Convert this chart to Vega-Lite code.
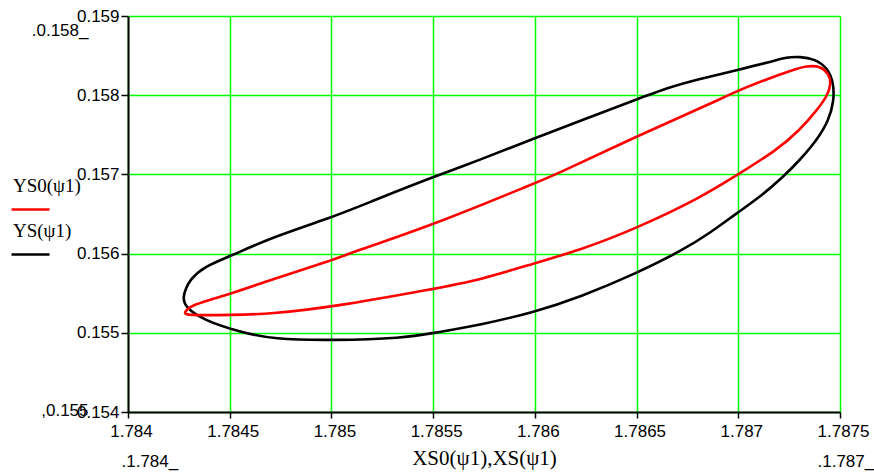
{
  "$schema": "https://vega.github.io/schema/vega-lite/v6.json",
  "width": 712,
  "height": 396,
  "autosize": {"type": "none"},
  "padding": {"left": 128, "top": 16, "right": 34, "bottom": 60},
  "background": "white",
  "data": {
    "values": [
      {"s": "YS(ψ1)", "i": 1, "x": 1.78427, "y": 0.155452},
      {"s": "YS(ψ1)", "i": 2, "x": 1.784285, "y": 0.155566},
      {"s": "YS(ψ1)", "i": 3, "x": 1.784305, "y": 0.155667},
      {"s": "YS(ψ1)", "i": 4, "x": 1.784369, "y": 0.155831},
      {"s": "YS(ψ1)", "i": 5, "x": 1.784506, "y": 0.15597},
      {"s": "YS(ψ1)", "i": 6, "x": 1.784698, "y": 0.156197},
      {"s": "YS(ψ1)", "i": 7, "x": 1.785008, "y": 0.156462},
      {"s": "YS(ψ1)", "i": 8, "x": 1.78519, "y": 0.156652},
      {"s": "YS(ψ1)", "i": 9, "x": 1.785499, "y": 0.156967},
      {"s": "YS(ψ1)", "i": 10, "x": 1.78573, "y": 0.157182},
      {"s": "YS(ψ1)", "i": 11, "x": 1.786001, "y": 0.15746},
      {"s": "YS(ψ1)", "i": 12, "x": 1.786247, "y": 0.1577},
      {"s": "YS(ψ1)", "i": 13, "x": 1.786492, "y": 0.157939},
      {"s": "YS(ψ1)", "i": 14, "x": 1.786664, "y": 0.158104},
      {"s": "YS(ψ1)", "i": 15, "x": 1.786812, "y": 0.158205},
      {"s": "YS(ψ1)", "i": 16, "x": 1.786994, "y": 0.158318},
      {"s": "YS(ψ1)", "i": 17, "x": 1.787156, "y": 0.158419},
      {"s": "YS(ψ1)", "i": 18, "x": 1.787239, "y": 0.158482},
      {"s": "YS(ψ1)", "i": 19, "x": 1.787303, "y": 0.158486},
      {"s": "YS(ψ1)", "i": 20, "x": 1.787372, "y": 0.158462},
      {"s": "YS(ψ1)", "i": 21, "x": 1.787441, "y": 0.158343},
      {"s": "YS(ψ1)", "i": 22, "x": 1.787468, "y": 0.158154},
      {"s": "YS(ψ1)", "i": 23, "x": 1.787471, "y": 0.157939},
      {"s": "YS(ψ1)", "i": 24, "x": 1.787446, "y": 0.157687},
      {"s": "YS(ψ1)", "i": 25, "x": 1.787387, "y": 0.157434},
      {"s": "YS(ψ1)", "i": 26, "x": 1.787303, "y": 0.157182},
      {"s": "YS(ψ1)", "i": 27, "x": 1.78722, "y": 0.156967},
      {"s": "YS(ψ1)", "i": 28, "x": 1.787107, "y": 0.156715},
      {"s": "YS(ψ1)", "i": 29, "x": 1.786994, "y": 0.156513},
      {"s": "YS(ψ1)", "i": 30, "x": 1.786861, "y": 0.15626},
      {"s": "YS(ψ1)", "i": 31, "x": 1.786728, "y": 0.156045},
      {"s": "YS(ψ1)", "i": 32, "x": 1.786492, "y": 0.155742},
      {"s": "YS(ψ1)", "i": 33, "x": 1.786222, "y": 0.155452},
      {"s": "YS(ψ1)", "i": 34, "x": 1.786001, "y": 0.155263},
      {"s": "YS(ψ1)", "i": 35, "x": 1.78573, "y": 0.155098},
      {"s": "YS(ψ1)", "i": 36, "x": 1.785499, "y": 0.154997},
      {"s": "YS(ψ1)", "i": 37, "x": 1.785352, "y": 0.154932},
      {"s": "YS(ψ1)", "i": 38, "x": 1.785008, "y": 0.154904},
      {"s": "YS(ψ1)", "i": 39, "x": 1.784713, "y": 0.154917},
      {"s": "YS(ψ1)", "i": 40, "x": 1.784551, "y": 0.15501},
      {"s": "YS(ψ1)", "i": 41, "x": 1.784369, "y": 0.155162},
      {"s": "YS(ψ1)", "i": 42, "x": 1.78428, "y": 0.155326},
      {"s": "YS0(ψ1)", "i": 1, "x": 1.784275, "y": 0.15525},
      {"s": "YS0(ψ1)", "i": 2, "x": 1.784305, "y": 0.155351},
      {"s": "YS0(ψ1)", "i": 3, "x": 1.784506, "y": 0.15549},
      {"s": "YS0(ψ1)", "i": 4, "x": 1.784698, "y": 0.155667},
      {"s": "YS0(ψ1)", "i": 5, "x": 1.785008, "y": 0.155919},
      {"s": "YS0(ψ1)", "i": 6, "x": 1.785106, "y": 0.15602},
      {"s": "YS0(ψ1)", "i": 7, "x": 1.785499, "y": 0.156361},
      {"s": "YS0(ψ1)", "i": 8, "x": 1.786001, "y": 0.156891},
      {"s": "YS0(ψ1)", "i": 9, "x": 1.786089, "y": 0.15698},
      {"s": "YS0(ψ1)", "i": 10, "x": 1.786492, "y": 0.157472},
      {"s": "YS0(ψ1)", "i": 11, "x": 1.786861, "y": 0.157889},
      {"s": "YS0(ψ1)", "i": 12, "x": 1.786994, "y": 0.158055},
      {"s": "YS0(ψ1)", "i": 13, "x": 1.787156, "y": 0.158217},
      {"s": "YS0(ψ1)", "i": 14, "x": 1.787254, "y": 0.158306},
      {"s": "YS0(ψ1)", "i": 15, "x": 1.787338, "y": 0.158374},
      {"s": "YS0(ψ1)", "i": 16, "x": 1.787407, "y": 0.158366},
      {"s": "YS0(ψ1)", "i": 17, "x": 1.787446, "y": 0.158265},
      {"s": "YS0(ψ1)", "i": 18, "x": 1.787456, "y": 0.158154},
      {"s": "YS0(ψ1)", "i": 19, "x": 1.787441, "y": 0.158003},
      {"s": "YS0(ψ1)", "i": 20, "x": 1.787387, "y": 0.157813},
      {"s": "YS0(ψ1)", "i": 21, "x": 1.787303, "y": 0.157561},
      {"s": "YS0(ψ1)", "i": 22, "x": 1.78719, "y": 0.157308},
      {"s": "YS0(ψ1)", "i": 23, "x": 1.786994, "y": 0.156992},
      {"s": "YS0(ψ1)", "i": 24, "x": 1.786812, "y": 0.156702},
      {"s": "YS0(ψ1)", "i": 25, "x": 1.786492, "y": 0.156311},
      {"s": "YS0(ψ1)", "i": 26, "x": 1.786222, "y": 0.156045},
      {"s": "YS0(ψ1)", "i": 27, "x": 1.786001, "y": 0.155881},
      {"s": "YS0(ψ1)", "i": 28, "x": 1.78573, "y": 0.155667},
      {"s": "YS0(ψ1)", "i": 29, "x": 1.785499, "y": 0.155553},
      {"s": "YS0(ψ1)", "i": 30, "x": 1.785008, "y": 0.155326},
      {"s": "YS0(ψ1)", "i": 31, "x": 1.784698, "y": 0.155237},
      {"s": "YS0(ψ1)", "i": 32, "x": 1.784506, "y": 0.155225},
      {"s": "YS0(ψ1)", "i": 33, "x": 1.784285, "y": 0.15522}
    ]
  },
  "layer": [
    {
      "mark": {"type": "point", "opacity": 0},
      "encoding": {
        "x": {
          "field": "x",
          "type": "quantitative",
          "scale": {"domain": [1.784, 1.7875], "nice": false, "zero": false},
          "axis": {
            "orient": "bottom",
            "values": [1.784, 1.7875],
            "labelExpr": "datum.value < 1.785 ? '.1.784_' : '.1.787_'",
            "title": null,
            "grid": false,
            "domain": false,
            "ticks": false,
            "offset": 40,
            "labelPadding": 1,
            "labelBaseline": "top",
            "labelAlign": "left",
            "labelOffset": {"condition": {"test": "datum.value < 1.785", "value": -7}, "value": -23},
            "labelFlush": false,
            "labelOverlap": false,
            "labelFont": "Liberation Sans",
            "labelFontSize": 17,
            "labelColor": "#000000"
          }
        },
        "y": {
          "field": "y",
          "type": "quantitative",
          "scale": {"domain": [0.154, 0.159], "nice": false, "zero": false},
          "axis": {
            "orient": "left",
            "values": [0.154, 0.159],
            "labelExpr": "datum.value < 0.1565 ? ',0.155' : '.0.158_'",
            "title": null,
            "grid": false,
            "domain": false,
            "ticks": false,
            "offset": 38,
            "labelPadding": 2,
            "labelAlign": "right",
            "labelBaseline": {"condition": {"test": "datum.value < 0.1565", "value": "alphabetic"}, "value": "top"},
            "labelOffset": {"condition": {"test": "datum.value < 0.1565", "value": 3}, "value": 6},
            "labelFlush": false,
            "labelOverlap": false,
            "labelFont": "Liberation Sans",
            "labelFontSize": 17,
            "labelColor": "#000000"
          }
        }
      }
    },
    {
      "mark": {"type": "line", "interpolate": "basis-closed", "strokeWidth": 2.6},
      "encoding": {
        "x": {
          "field": "x",
          "type": "quantitative",
          "scale": {"domain": [1.784, 1.7875], "nice": false, "zero": false},
          "axis": {
            "orient": "bottom",
            "values": [1.784, 1.7845, 1.785, 1.7855, 1.786, 1.7865, 1.787, 1.7875],
            "format": ".4~f",
            "title": "XS0(ψ1),XS(ψ1)",
            "titleFont": "Liberation Serif",
            "titleFontSize": 21,
            "titleFontWeight": "normal",
            "titleColor": "#000000",
            "titlePadding": 8,
            "grid": true,
            "gridColor": "#00ff00",
            "gridWidth": 1.5,
            "domainColor": "#000000",
            "domainWidth": 2,
            "tickColor": "#000000",
            "tickWidth": 1.5,
            "tickSize": 6,
            "labelPadding": 5,
            "labelOffset": 3,
            "labelFlush": false,
            "labelOverlap": false,
            "labelFont": "Liberation Sans",
            "labelFontSize": 17,
            "labelColor": "#000000"
          }
        },
        "y": {
          "field": "y",
          "type": "quantitative",
          "scale": {"domain": [0.154, 0.159], "nice": false, "zero": false},
          "axis": {
            "orient": "left",
            "values": [0.154, 0.155, 0.156, 0.157, 0.158, 0.159],
            "format": ".3f",
            "title": null,
            "grid": true,
            "gridColor": "#00ff00",
            "gridWidth": 1.5,
            "domainColor": "#000000",
            "domainWidth": 2,
            "tickColor": "#000000",
            "tickWidth": 1.5,
            "tickSize": 7,
            "labelPadding": 2,
            "labelFlush": false,
            "labelOverlap": false,
            "labelFont": "Liberation Sans",
            "labelFontSize": 17,
            "labelColor": "#000000"
          }
        },
        "color": {
          "field": "s",
          "type": "nominal",
          "scale": {"domain": ["YS0(ψ1)", "YS(ψ1)"], "range": ["#ff0000", "#000000"]},
          "legend": {
            "title": null,
            "orient": "none",
            "legendX": -118,
            "legendY": 173,
            "padding": 0,
            "rowPadding": 6,
            "symbolType": "stroke",
            "symbolSize": 1444,
            "symbolStrokeWidth": 2.6,
            "labelFont": "Liberation Serif",
            "labelFontSize": 19,
            "labelColor": "#000000",
            "labelOffset": -38,
            "labelBaseline": "alphabetic",
            "encode": {"labels": {"update": {"dy": {"value": -18}}}}
          }
        },
        "order": {"field": "i", "type": "quantitative"}
      }
    }
  ],
  "resolve": {"axis": {"x": "independent", "y": "independent"}},
  "config": {"view": {"stroke": null}}
}
